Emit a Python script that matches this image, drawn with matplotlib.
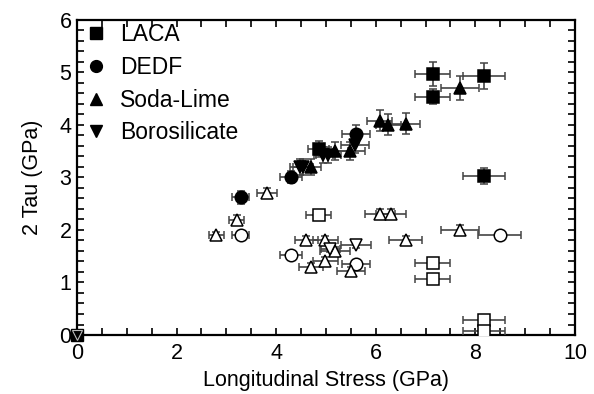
import matplotlib
matplotlib.use('Agg')
import matplotlib.pyplot as plt
from matplotlib.ticker import MultipleLocator
from matplotlib.lines import Line2D

plt.rcParams['font.family'] = ['Liberation Sans', 'DejaVu Sans']

# ---- data (Longitudinal stress, 2 Tau, x error, y error) ----
# filled symbols
laca_x = [7.14, 7.14, 8.18, 8.18, 4.85]
laca_y = [4.97, 4.54, 4.93, 3.03, 3.54]
laca_xe = [0.36, 0.36, 0.42, 0.42, 0.22]
laca_ye = [0.23, 0.15, 0.24, 0.15, 0.15]

dedf_x = [5.60, 4.29, 3.29]
dedf_y = [3.82, 3.01, 2.62]
dedf_xe = [0.28, 0.22, 0.17]
dedf_ye = [0.17, 0.12, 0.12]

soda_x = [7.69, 6.60, 6.08, 6.25, 5.48, 5.19, 4.69]
soda_y = [4.71, 4.02, 4.08, 4.00, 3.51, 3.50, 3.20]
soda_xe = [0.39, 0.29, 0.25, 0.25, 0.30, 0.25, 0.20]
soda_ye = [0.23, 0.20, 0.20, 0.20, 0.17, 0.17, 0.15]

boro_x = [5.58, 5.05, 4.95, 4.54, 4.48]
boro_y = [3.62, 3.43, 3.43, 3.20, 3.20]
boro_xe = [0.28, 0.25, 0.20, 0.20, 0.20]
boro_ye = [0.15, 0.15, 0.15, 0.15, 0.15]

# open symbols
laca_o_x = [4.85, 7.14, 7.14, 8.18, 8.18]
laca_o_y = [2.29, 1.38, 1.07, 0.29, 0.08]
laca_o_xe = [0.25, 0.36, 0.36, 0.42, 0.42]
laca_o_ye = [0.05, 0.0, 0.0, 0.0, 0.0]

dedf_o_x = [3.29, 4.30, 5.60, 8.49]
dedf_o_y = [1.90, 1.52, 1.35, 1.90]
dedf_o_xe = [0.17, 0.22, 0.28, 0.43]
dedf_o_ye = [0.0, 0.0, 0.0, 0.0]

soda_o_x = [3.21, 2.80, 3.81, 4.60, 4.99, 5.18, 4.99, 4.70, 5.50, 6.08, 6.30, 7.69, 6.60]
soda_o_y = [2.19, 1.90, 2.70, 1.80, 1.80, 1.59, 1.40, 1.30, 1.21, 2.30, 2.30, 2.00, 1.80]
soda_o_xe = [0.15, 0.15, 0.20, 0.23, 0.25, 0.30, 0.25, 0.25, 0.28, 0.30, 0.30, 0.39, 0.33]
soda_o_ye = [0.10, 0.07, 0.10, 0.08, 0.08, 0.08, 0.08, 0.08, 0.08, 0.10, 0.10, 0.10, 0.08]

boro_o_x = [5.09, 5.60]
boro_o_y = [1.63, 1.71]
boro_o_xe = [0.20, 0.30]
boro_o_ye = [0.05, 0.05]

fig = plt.figure(figsize=(5.94, 3.94), dpi=100)
ax = fig.add_axes([0.1296, 0.1497, 0.8384, 0.8])

ebc = '#444444'
common = dict(ls='none', ecolor=ebc, elinewidth=1.2, capsize=3, capthick=1.2, mew=1.1, zorder=3)

def series(x, y, xe, ye, marker, ms, filled):
    fc = 'black' if filled else 'white'
    ax.errorbar(x, y, xerr=xe, yerr=ye, marker=marker, ms=ms,
                mfc=fc, mec='black', **common)

series(laca_o_x, laca_o_y, laca_o_xe, laca_o_ye, 's', 9, False)
series(dedf_o_x, dedf_o_y, dedf_o_xe, dedf_o_ye, 'o', 9, False)
series(soda_o_x, soda_o_y, soda_o_xe, soda_o_ye, '^', 8.5, False)
series(boro_o_x, boro_o_y, boro_o_xe, boro_o_ye, 'v', 8.5, False)

series(laca_x, laca_y, laca_xe, laca_ye, 's', 9, True)
series(dedf_x, dedf_y, dedf_xe, dedf_ye, 'o', 9, True)
series(soda_x, soda_y, soda_xe, soda_ye, '^', 8.5, True)
series(boro_x, boro_y, boro_xe, boro_ye, 'v', 8.5, True)

# origin point
ax.plot([0], [0], 's', ms=9, color='black', clip_on=False, zorder=4)
ax.plot([0], [0], 'v', ms=7, mfc='black', mec='#bbbbbb', mew=0.8, clip_on=False, zorder=5)

ax.set_xlim(0, 10)
ax.set_ylim(0, 6)
ax.xaxis.set_major_locator(MultipleLocator(2))
ax.xaxis.set_minor_locator(MultipleLocator(0.5))
ax.yaxis.set_major_locator(MultipleLocator(1))
ax.yaxis.set_minor_locator(MultipleLocator(0.2))
ax.tick_params(which='both', direction='in', top=True, right=True, width=1.2,
               labelsize=15.5, length=5)
ax.tick_params(axis='x', pad=6)
ax.tick_params(axis='y', pad=4)
for s in ax.spines.values():
    s.set_linewidth(1.6)

ax.set_xlabel('Longitudinal Stress (GPa)', fontsize=15.5, labelpad=4)
ax.set_ylabel('2 Tau (GPa)', fontsize=15.5, labelpad=12)

handles = [Line2D([], [], ls='none', marker=m, ms=ms, color='black')
           for m, ms in [('s', 8), ('o', 8.5), ('^', 8), ('v', 8)]]
ax.legend(handles, ['LACA', 'DEDF', 'Soda-Lime', 'Borosilicate'], loc='upper left',
          frameon=False, fontsize=16.5, labelspacing=0.42, handlelength=1.0,
          handletextpad=0.55, borderaxespad=0.0, bbox_to_anchor=(-0.003, 1.018))

fig.savefig('out.png', dpi=100)
